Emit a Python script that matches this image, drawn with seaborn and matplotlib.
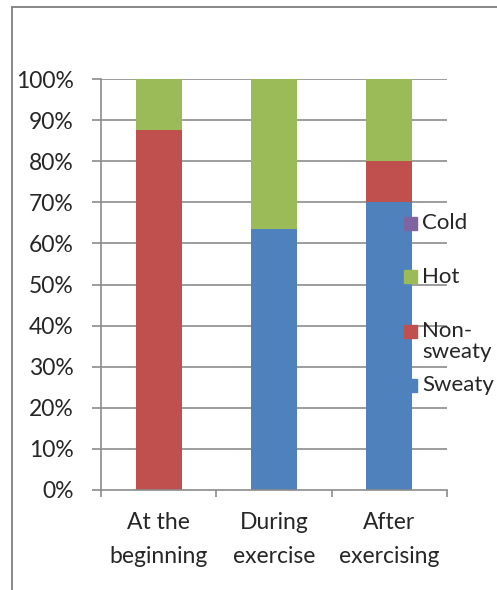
import matplotlib
matplotlib.use("Agg")
import matplotlib.pyplot as plt
import matplotlib.patches as mpatches
import seaborn as sns
import pandas as pd
import numpy as np

# Data (percent of answers)
stages = ['At the\nbeginning', 'During\nexercise', 'After\nexercising']
sweaty = [0.0, 63.6, 70.0]
non_sweaty = [87.5, 0.0, 10.0]
hot = [12.5, 36.4, 20.0]
cold = [0.0, 0.0, 0.0]

colors = {'Cold': '#8064A2', 'Hot': '#9BBB59', 'Non-sweaty': '#C0504D', 'Sweaty': '#4F81BD'}
legend_labels = [('Cold', 'Cold'), ('Hot', 'Hot'), ('Non-sweaty', 'Non-\nsweaty'), ('Sweaty', 'Sweaty')]

sns.set_style("white")
plt.rcParams['font.family'] = ['Lato', 'DejaVu Sans']
fs = 16.5
fs_leg = 16

df = pd.DataFrame({'stage': stages, 'Sweaty': sweaty, 'Non-sweaty': non_sweaty,
                   'Hot': hot, 'Cold': cold})
# cumulative tops so the bars can be overlaid from tallest to shortest
df['top_sweaty'] = df['Sweaty']
df['top_non'] = df['top_sweaty'] + df['Non-sweaty']
df['top_hot'] = df['top_non'] + df['Hot']
df['top_cold'] = df['top_hot'] + df['Cold']

W, H = 497, 590
fig = plt.figure(figsize=(W / 100, H / 100), dpi=100)
ax = fig.add_axes([101 / W, 1 - 490 / H, 346 / W, 411 / H])

grid_col = '#8C8C8C'
for yv in np.arange(0.1, 1.01, 0.1):
    ax.axhline(yv, color=grid_col, lw=1.2, zorder=0)

for col, name in [('top_cold', 'Cold'), ('top_hot', 'Hot'), ('top_non', 'Non-sweaty'), ('top_sweaty', 'Sweaty')]:
    sns.barplot(x=df['stage'], y=df[col] / 100, color=colors[name], width=0.4,
                saturation=1, ax=ax, zorder=2, linewidth=0)

ax.set_xlim(-0.5, 2.5)
ax.set_ylim(0, 1)
ax.set_yticks(np.arange(0, 1.01, 0.1))
ax.set_yticklabels([f'{int(round(v * 100))}%' for v in np.arange(0, 1.01, 0.1)])
ax.set_xticks([0, 1, 2])
ax.set_xticklabels(stages, linespacing=1.75)
ax.set_xticks([-0.5, 0.5, 1.5, 2.5], minor=True)
ax.set_xlabel('')
ax.set_ylabel('')

for s in ['top', 'right']:
    ax.spines[s].set_visible(False)
for s in ['left', 'bottom']:
    ax.spines[s].set_color(grid_col)
    ax.spines[s].set_linewidth(1.2)

ax.tick_params(axis='y', which='major', length=6.5, width=1.2, color=grid_col,
               pad=13, labelsize=fs, left=True)
ax.tick_params(axis='x', which='major', length=0, pad=16, labelsize=fs)
ax.tick_params(axis='x', which='minor', length=5, width=1.2, color=grid_col, bottom=True)

# legend drawn by hand: squares aligned with the first text line
for i, (name, lab) in enumerate(legend_labels):
    yc = 223 + 54 * i
    fig.add_artist(mpatches.Rectangle((404 / W, 1 - (yc + 6.5) / H), 13 / W, 13 / H,
                                      color=colors[name], transform=fig.transFigure, zorder=5))
    first, *rest = lab.split('\n')
    fig.text(422 / W, 1 - yc / H, first, fontsize=fs_leg, va='center', ha='left', zorder=6)
    for j, line in enumerate(rest):
        fig.text(422 / W, 1 - (yc + 21 * (j + 1)) / H, line, fontsize=fs_leg, va='center', ha='left', zorder=6)

# outer chart frame
fig.add_artist(plt.Line2D([12 / W, 12 / W], [0, 1 - 7 / H], color='#7F7F7F', lw=1.3))
fig.add_artist(plt.Line2D([12 / W, 1], [1 - 7 / H, 1 - 7 / H], color='#7F7F7F', lw=1.3))

fig.savefig('out.png', dpi=100)
